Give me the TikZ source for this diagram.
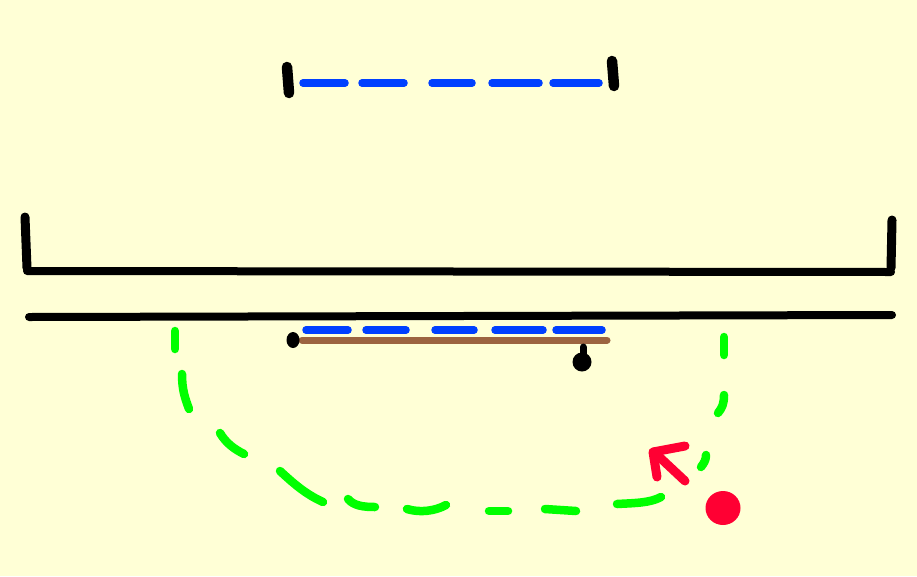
\documentclass[tikz,border=0pt]{standalone}
\definecolor{bg}{RGB}{255,255,214}
\definecolor{sblue}{RGB}{0,64,255}
\definecolor{sgreen}{RGB}{0,255,0}
\definecolor{sred}{RGB}{255,0,51}
\definecolor{sbrown}{RGB}{156,100,64}
\begin{document}
\begin{tikzpicture}[x=1pt,y=-1pt,line cap=round,line join=round,
  blk/.style={draw=black,line width=8pt},
  post/.style={draw=black,line width=10.5pt},
  bluedash/.style={draw=sblue,line width=7.5pt},
  greendash/.style={draw=sgreen,line width=8.5pt},
  redstroke/.style={draw=sred,line width=9pt},
  rod/.style={draw=sbrown,line width=7pt}]
\fill[bg] (0,0) rectangle (917,576);
\useasboundingbox (0,0) rectangle (917,576);
% top small bracket
\draw[post] (287,67) -- (289,93);
\draw[post] (612,61) -- (614,86);
\foreach \a/\b in {303/345,362/404,432/472,492/539,553/599}
  \draw[bluedash] (\a,83) -- (\b,83);
% large bracket
\draw[post,line width=9pt] (25,217) -- (27,268);
\draw[post,line width=9pt] (892,220) -- (891,268);
\draw[blk] (27,271) -- (891,272);
\draw[blk] (29,317) -- (892,315);
% blue dashes under line
\foreach \a/\b in {306/348,366/406,435/474,495/543,556/602}
  \draw[bluedash] (\a,330) -- (\b,330);
% brown rod with black ends
\draw[rod] (302,340) -- (607,340);
\fill[black] (293,340) ellipse (6.5 and 8);
\draw[black,line width=7pt] (583,347) -- (583,358);
\fill[black] (582,362) circle (9.5);
% green dashed path
\draw[greendash] (175,331) -- (175,349);
\draw[greendash] (182,374) .. controls (182,390) and (185,398) .. (189,409);
\draw[greendash] (220,433) .. controls (226,443) and (234,449) .. (244,454);
\draw[greendash] (280,471) .. controls (292,482) and (305,494) .. (323,502);
\draw[greendash] (348,499) .. controls (354,506) and (364,507) .. (375,507);
\draw[greendash] (407,509) .. controls (420,513) and (435,511) .. (446,505);
\draw[greendash] (489,511) -- (508,511);
\draw[greendash] (545,509) -- (576,511);
\draw[greendash] (617,504) .. controls (635,503) and (650,503) .. (661,497);
\draw[greendash] (724,337) -- (724,355);
\draw[greendash] (724,395) .. controls (724,404) and (722,408) .. (718,413);
\draw[greendash] (706,455) .. controls (706,460) and (704,463) .. (701,467);
% red arrow and dot
\draw[redstroke] (685,481) -- (654,452);
\draw[redstroke] (685,446) -- (653,452) -- (657,477);
\fill[sred] (723,508) ellipse (17.5 and 17);
\end{tikzpicture}
\end{document}
